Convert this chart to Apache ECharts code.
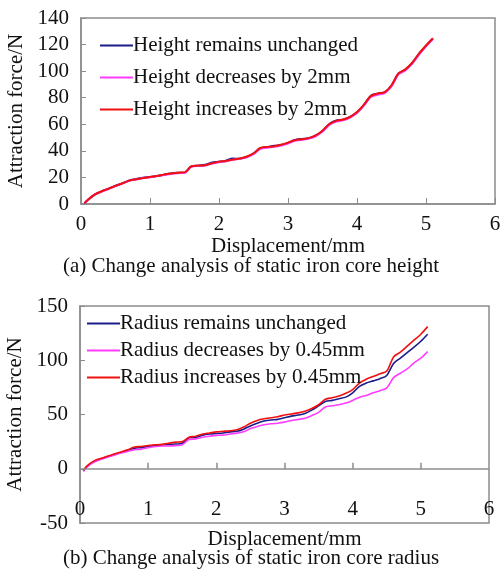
<!DOCTYPE html>
<html>
<head>
<meta charset="utf-8">
<script src="https://cdn.jsdelivr.net/npm/echarts@6/dist/echarts.min.js"></script>
<style>
  html, body { margin: 0; padding: 0; background: #fff; }
  #chart { width: 502px; height: 572px; }
</style>
</head>
<body>
<div id="chart"></div>
<script>
// Displacement samples (mm), shared by both panels
const displacement = [0.05, 0.1, 0.2, 0.3, 0.4, 0.5, 0.6, 0.7, 0.8, 0.9, 1.0, 1.1, 1.2, 1.3, 1.4, 1.5, 1.6, 1.7, 1.8, 1.9, 2.0,
  2.1, 2.2, 2.3, 2.4, 2.5, 2.6, 2.7, 2.8, 2.9, 3.0, 3.1, 3.2, 3.3, 3.4, 3.5, 3.6, 3.7, 3.8, 3.9, 4.0,
  4.1, 4.2, 4.3, 4.4, 4.5, 4.6, 4.7, 4.8, 4.9, 5.0, 5.1];

// (a) Static iron core height (attraction force, N)
const heightUnchanged = [0.5, 3, 7, 9.5, 11.5, 13.8, 15.5, 17.8, 18.8, 19.8, 20.3, 21, 22, 23, 23.5, 23.6, 28.3, 28.8, 29.5, 31.2, 31.8,
  32.6, 34.2, 34, 35.5, 38, 42, 42.8, 43.8, 44.5, 46, 48.2, 49, 49.5, 51.5, 55, 60.2, 62.8, 63.5, 65.5, 69,
  74.5, 81.5, 83, 84, 89, 98.2, 101, 106, 113, 119, 124.5];
const heightDecreased = [0.5, 3, 7, 9.3, 11.3, 13.5, 15.3, 17.5, 18.5, 19.5, 20.2, 21, 21.8, 22.6, 23.2, 23.4, 28, 28.6, 29, 30.5, 31.5,
  32.2, 33.3, 34.1, 35.2, 37.6, 41.5, 42.4, 43, 44, 45.5, 47.6, 48.4, 49.2, 51, 54.5, 59.6, 62, 63, 65, 68.5,
  74, 80.5, 82.2, 83.5, 88.5, 97.6, 100.6, 105.6, 112.5, 118.6, 124.2];
const heightIncreased = [0.6, 3.2, 7.2, 9.6, 11.6, 13.6, 15.6, 17.6, 18.6, 19.5, 20.4, 21.1, 22.1, 22.9, 23.6, 23.8, 28.4, 28.9, 29.2, 30.6, 31.9,
  32.4, 33.4, 34.3, 35.6, 38.2, 42.2, 43, 43.4, 44.6, 46.2, 48.1, 48.8, 49.6, 51.6, 55.2, 60.2, 62.6, 63.6, 65.6, 69.2,
  74.8, 81.2, 83.2, 84.2, 89.4, 98.3, 101.3, 106.3, 113.3, 119.3, 124.8];

// (b) Static iron core radius (attraction force, N)
const radiusUnchanged = [-2, 2, 6.5, 9, 11, 13, 15, 17, 19, 19.5, 20.5, 21.5, 22, 22.5, 22.8, 23.5, 28.5, 29, 31, 32, 32.5,
  33, 34, 34.5, 36.5, 39.5, 42, 44, 45, 45.5, 47, 48.5, 49.5, 51, 54, 58, 62, 63, 64.5, 66, 70,
  76, 79, 81, 83, 86, 97, 102, 107, 112, 117.5, 124];
const radiusDecreased = [-2.5, 1.5, 6, 8.5, 10.5, 12.5, 14.5, 16, 17.5, 18, 19.5, 20.5, 21, 21, 21.3, 22, 27, 27.5, 29, 30, 30.8,
  31, 32, 32.8, 34, 37, 39, 40.5, 41.5, 42, 43, 44.5, 45.5, 46.5, 49, 52, 57, 58, 59, 60.5, 63,
  66, 67.5, 70, 72, 74.5, 84, 88, 92, 97.5, 102, 108];
const radiusIncreased = [-1.5, 2.5, 7, 9.5, 11.5, 13.5, 15.5, 17.5, 20, 20.5, 21.5, 22, 22.5, 23.5, 24.5, 25, 29, 30, 32, 33, 34,
  34.5, 35, 36, 38.5, 42, 44.5, 46, 47, 48, 49.5, 50.5, 51.5, 53, 55.5, 59, 64, 65.5, 67, 69.5, 73,
  79, 82.5, 85, 87.5, 90, 103, 107.5, 113, 118.5, 124, 131];

// Tick positions along the zero line of panel (b)
const zeroLineTicks = [1, 2, 3, 4, 5];

const legendA = ['Height remains unchanged', 'Height decreases by 2mm', 'Height increases by 2mm'];
const legendB = ['Radius remains unchanged', 'Radius decreases by 0.45mm', 'Radius increases by 0.45mm'];
const captionA = '(a) Change analysis of static iron core height';
const captionB = '(b) Change analysis of static iron core radius';
const xName = 'Displacement/mm';
const yName = 'Attraction force/N';

const FONT = 'Liberation Serif';
const GREY = '#8c8c8c';
const COLORS = ['#1c1c8a', '#ff3cff', '#f01010'];

const pairs = ys => displacement.map((x, i) => [x, ys[i]]);

const txt = { fontFamily: FONT, fontSize: 21, color: '#111' };

const yAxisBase = (gridIndex, min, max, interval) => ({
  gridIndex, type: 'value', min, max, interval,
  name: yName, nameLocation: 'middle', nameGap: 51,
  nameTextStyle: Object.assign({}, txt),
  axisLine: { show: true, onZero: false, lineStyle: { color: GREY, width: 1.5 } },
  axisTick: { show: true, inside: true, length: 5, lineStyle: { color: GREY } },
  axisLabel: Object.assign({ margin: 12 }, txt),
  splitLine: { show: false }
});

function lineSeries(name, ys, idx, axis, width, extra) {
  return Object.assign({
    name, type: 'line', xAxisIndex: axis, yAxisIndex: axis,
    data: pairs(ys), symbol: 'none', smooth: 0.3,
    lineStyle: { color: COLORS[idx], width },
    itemStyle: { color: COLORS[idx] },
    emphasis: { disabled: true }, animation: false
  }, extra || {});
}
function legendFor(names, left, top, gap) {
  return {
    data: names, orient: 'vertical', left, top, itemGap: gap, padding: 0,
    icon: 'rect', itemWidth: 33, itemHeight: 2,
    textStyle: Object.assign({ padding: [0, 0, 0, -5] }, txt),
    selectedMode: false
  };
}

// Zero line of panel (b) with short upward ticks, drawn in data space
const zeroLine = {
  silent: true, symbol: 'none', animation: false,
  label: { show: false },
  lineStyle: { color: GREY, width: 1.5, type: 'solid' },
  data: [[{ coord: [0, 0] }, { coord: [6, 0] }]].concat(
    zeroLineTicks.map(x => [{ coord: [x, 0] }, { coord: [x, 5.5] }])
  )
};

const chart = echarts.init(document.getElementById('chart'), null, { renderer: 'canvas' });
chart.setOption({
  animation: false,
  backgroundColor: '#fff',
  grid: [
    { left: 81, top: 18, width: 414, height: 186, show: true, borderColor: GREY, borderWidth: 1.5,
      backgroundColor: 'transparent', outerBoundsMode: 'none', containLabel: false },
    { left: 80, top: 306, width: 409, height: 217, show: true, borderColor: GREY, borderWidth: 1.5,
      backgroundColor: 'transparent', outerBoundsMode: 'none', containLabel: false }
  ],
  xAxis: [
    {
      gridIndex: 0, type: 'value', min: 0, max: 6, interval: 1,
      name: xName, nameLocation: 'middle', nameGap: 30,
      nameTextStyle: Object.assign({}, txt),
      axisLine: { show: true, onZero: false, lineStyle: { color: GREY, width: 1.5 } },
      axisTick: { show: true, inside: true, length: 6, lineStyle: { color: GREY } },
      axisLabel: Object.assign({ margin: 10 }, txt),
      splitLine: { show: false }
    },
    {
      gridIndex: 1, type: 'value', min: 0, max: 6, interval: 1,
      name: xName, nameLocation: 'middle', nameGap: 6,
      nameTextStyle: Object.assign({ verticalAlign: 'top' }, txt),
      axisLine: { show: false, onZero: false },
      axisTick: { show: false },
      axisLabel: Object.assign({ inside: true, margin: 3 }, txt),
      splitLine: { show: false }
    }
  ],
  yAxis: [yAxisBase(0, 0, 140, 20), yAxisBase(1, -50, 150, 50)],
  legend: [legendFor(legendA, 100, 35, 11), legendFor(legendB, 87, 313, 6)],
  series: [
    lineSeries(legendA[0], heightUnchanged, 0, 0, 2),
    lineSeries(legendA[1], heightDecreased, 1, 0, 2),
    lineSeries(legendA[2], heightIncreased, 2, 0, 2),
    lineSeries(legendB[0], radiusUnchanged, 0, 1, 1.6, { markLine: zeroLine }),
    lineSeries(legendB[1], radiusDecreased, 1, 1, 1.6),
    lineSeries(legendB[2], radiusIncreased, 2, 1, 1.6)
  ],
  graphic: [
    { type: 'text', left: 'center', top: 256, style: { text: captionA, fill: '#111', font: '21px "Liberation Serif"' } },
    { type: 'text', left: 'center', top: 548, style: { text: captionB, fill: '#111', font: '21px "Liberation Serif"' } }
  ]
});
</script>
</body>
</html>
